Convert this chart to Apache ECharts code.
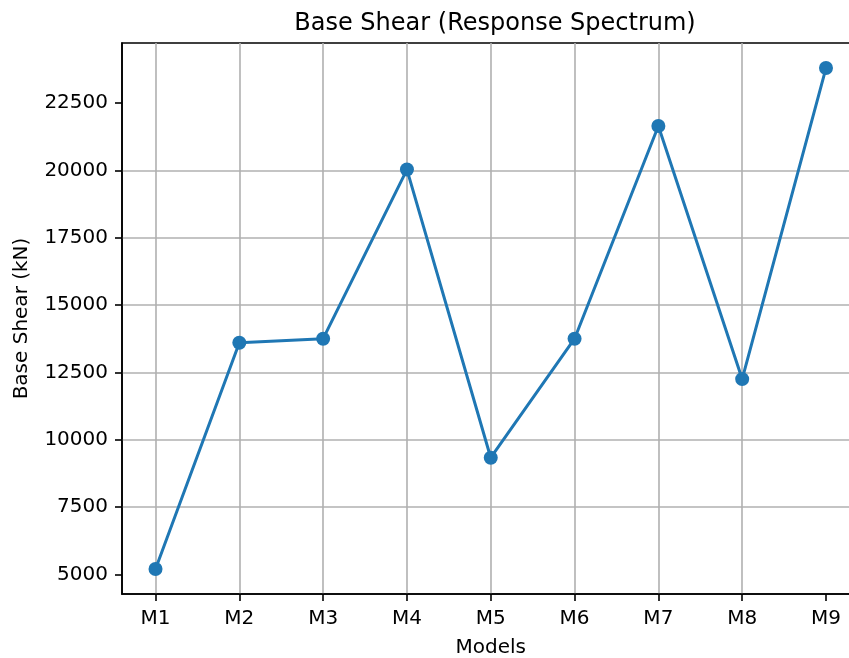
<!DOCTYPE html>
<html>
<head>
    <meta charset="utf-8">
    <title>Base Shear</title>
    <script src="https://cdn.jsdelivr.net/npm/echarts@6/dist/echarts.min.js"></script>
    <style>
      html, body { margin: 0; padding: 0; background: #fff; }
      #main { width: 849px; height: 658px; }
    </style>
</head>
<body>
    <div id="main"></div>
    <script type="text/javascript">

// models and base shear values (kN)
let models = ['M1', 'M2', 'M3', 'M4', 'M5', 'M6', 'M7', 'M8', 'M9']
let baseShear = [5200, 13600, 13750, 20030, 9330, 13750, 21650, 12250, 23800]
let yTicks = [5000, 7500, 10000, 12500, 15000, 17500, 20000, 22500]
let xTicks = models.map((m, i) => i)

let font = 'DejaVu Sans'

// matplotlib style 5% margins around the data
let yMin = v => v.min - 0.05 * (v.max - v.min)
let yMax = v => v.max + 0.05 * (v.max - v.min)

var option = {
    animation: false,
    title: {
        text: 'Base Shear (Response Spectrum)',
        left: 490,
        top: 7,
        textAlign: 'center',
        textStyle: { fontFamily: font, fontSize: 24, fontWeight: 'normal', color: '#000' }
    },
    grid: {
        left: 122, right: -10.5, top: 43, bottom: 64,
        outerBoundsMode: 'none',
        show: true, borderColor: '#000', borderWidth: 1.6, backgroundColor: '#fff'
    },
    xAxis: {
        type: 'value',
        min: -0.4, max: 8.4,
        minInterval: 1, maxInterval: 1,
        name: 'Models',
        nameLocation: 'middle',
        nameGap: 44,
        nameTextStyle: { fontFamily: font, fontSize: 20, color: '#000' },
        axisLine: { onZero: false, lineStyle: { color: '#000', width: 1.6 } },
        axisTick: { customValues: xTicks, length: 7, lineStyle: { color: '#000', width: 1.6 } },
        axisLabel: {
            customValues: xTicks,
            margin: 15,
            fontFamily: font, fontSize: 20, color: '#000',
            formatter: v => models[v] || ''
        },
        splitLine: { show: true, showMinLine: true, showMaxLine: false, lineStyle: { color: '#b0b0b0', width: 1.6 } }
    },
    yAxis: {
        type: 'value',
        min: yMin, max: yMax,
        minInterval: 2500, maxInterval: 2500,
        name: 'Base Shear (kN)',
        nameLocation: 'middle',
        nameGap: 90,
        nameTextStyle: { fontFamily: font, fontSize: 20, color: '#000' },
        axisLine: { show: true, onZero: false, lineStyle: { color: '#000', width: 1.6 } },
        axisTick: { show: true, customValues: yTicks, length: 7, lineStyle: { color: '#000', width: 1.6 } },
        axisLabel: {
            customValues: yTicks,
            margin: 14,
            fontFamily: font, fontSize: 20, color: '#000',
            formatter: v => String(v)
        },
        splitLine: { show: true, showMinLine: false, showMaxLine: false, lineStyle: { color: '#b0b0b0', width: 1.6 } }
    },
    series: [
        {
            name: 'Base Shear',
            type: 'line',
            data: baseShear.map((v, i) => [i, v]),
            symbol: 'circle',
            symbolSize: 14,
            lineStyle: { color: '#1f77b4', width: 3 },
            itemStyle: { color: '#1f77b4' }
        }
    ]
}

echarts.init(document.getElementById('main')).setOption(option)

    </script>
</body>
</html>
